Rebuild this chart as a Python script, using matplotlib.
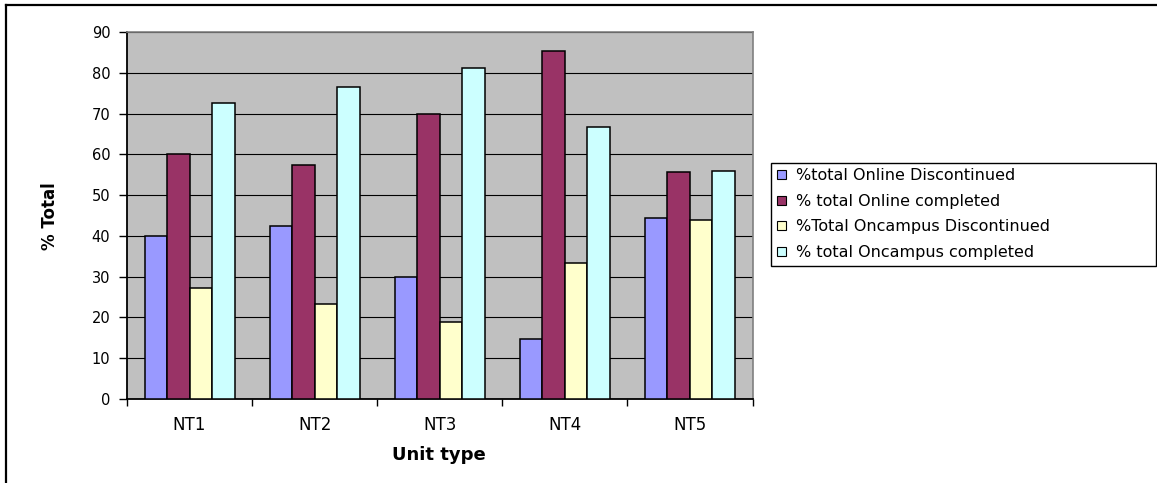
import matplotlib
matplotlib.use("Agg")
import matplotlib.pyplot as plt
from matplotlib.lines import Line2D
import numpy as np

categories = ["NT1", "NT2", "NT3", "NT4", "NT5"]
series_names = ["%total Online Discontinued", "% total Online completed",
                "%Total Oncampus Discontinued", "% total Oncampus completed"]
online_discontinued = [40.0, 42.5, 30.0, 14.6, 44.3]
online_completed = [60.0, 57.3, 70.0, 85.4, 55.6]
oncampus_discontinued = [27.3, 23.4, 18.8, 33.4, 44.0]
oncampus_completed = [72.6, 76.6, 81.1, 66.6, 55.9]
y_ticks = [0, 10, 20, 30, 40, 50, 60, 70, 80, 90]

colors = ["#9999FF", "#993366", "#FFFFCC", "#CCFFFF"]
series = [online_discontinued, online_completed, oncampus_discontinued, oncampus_completed]

plt.rcParams['font.family'] = ['DejaVu Sans']

fig = plt.figure(figsize=(11.57, 4.83), dpi=100)
fig.patch.set_facecolor("white")
ax = fig.add_axes([127/1157, 1-399/483, (752.5-127)/1157, (399-32)/483])
ax.set_facecolor("#C0C0C0")

x = np.arange(len(categories))
w = 0.18
for i, (vals, c, name) in enumerate(zip(series, colors, series_names)):
    ax.bar(x + (i-1.5)*w, vals, width=w, color=c, edgecolor="black",
           linewidth=1.1, label=name, zorder=3)

ax.set_xlim(-0.5, 4.5)
ax.set_ylim(0, 90)
ax.set_yticks(y_ticks)
ax.yaxis.grid(True, color="black", linewidth=0.8, zorder=1)
ax.set_axisbelow(True)

ax.set_xticks(np.arange(-0.5, 5.0, 1.0))
ax.set_xticklabels([])
ax.set_xticks(x, minor=True)
ax.set_xticklabels(categories, minor=True, fontsize=12)
ax.tick_params(axis="x", which="major", direction="out", length=5, width=1, color="black")
ax.tick_params(axis="x", which="minor", length=0, pad=12)
ax.tick_params(axis="y", direction="out", length=6, width=1, pad=6, labelsize=10.5)

for s in ["top", "right"]:
    ax.spines[s].set_color("#808080")
    ax.spines[s].set_linewidth(1.2)
for s in ["left", "bottom"]:
    ax.spines[s].set_color("black")
    ax.spines[s].set_linewidth(1.3)

fig.text(50/1157, 1-216/483, "% Total", rotation=90, fontsize=12,
         fontweight="bold", ha="center", va="center")
fig.text(439/1157, 1-455/483, "Unit type", fontsize=13,
         fontweight="bold", ha="center", va="center")

leg = fig.legend(loc="upper left",
                 bbox_to_anchor=(771.5/1157, 1-267.5/483, (1156-771.5)/1157, 105/483),
                 mode="expand", borderaxespad=0, fontsize=11.5,
                 handlelength=0.55, handleheight=0.5, handletextpad=0.6,
                 labelspacing=0.66, borderpad=0.36, fancybox=False,
                 edgecolor="black", framealpha=1)
leg.get_frame().set_linewidth(1.0)
for h in leg.legend_handles:
    h.set_linewidth(0.8)

fig.add_artist(Line2D([6/1157, 1], [1-5/483, 1-5/483], color="black", linewidth=1.6,
                      transform=fig.transFigure))
fig.add_artist(Line2D([6/1157, 6/1157], [0, 1-5/483], color="black", linewidth=1.6,
                      transform=fig.transFigure))

fig.savefig("out.png", dpi=100, facecolor="white")
